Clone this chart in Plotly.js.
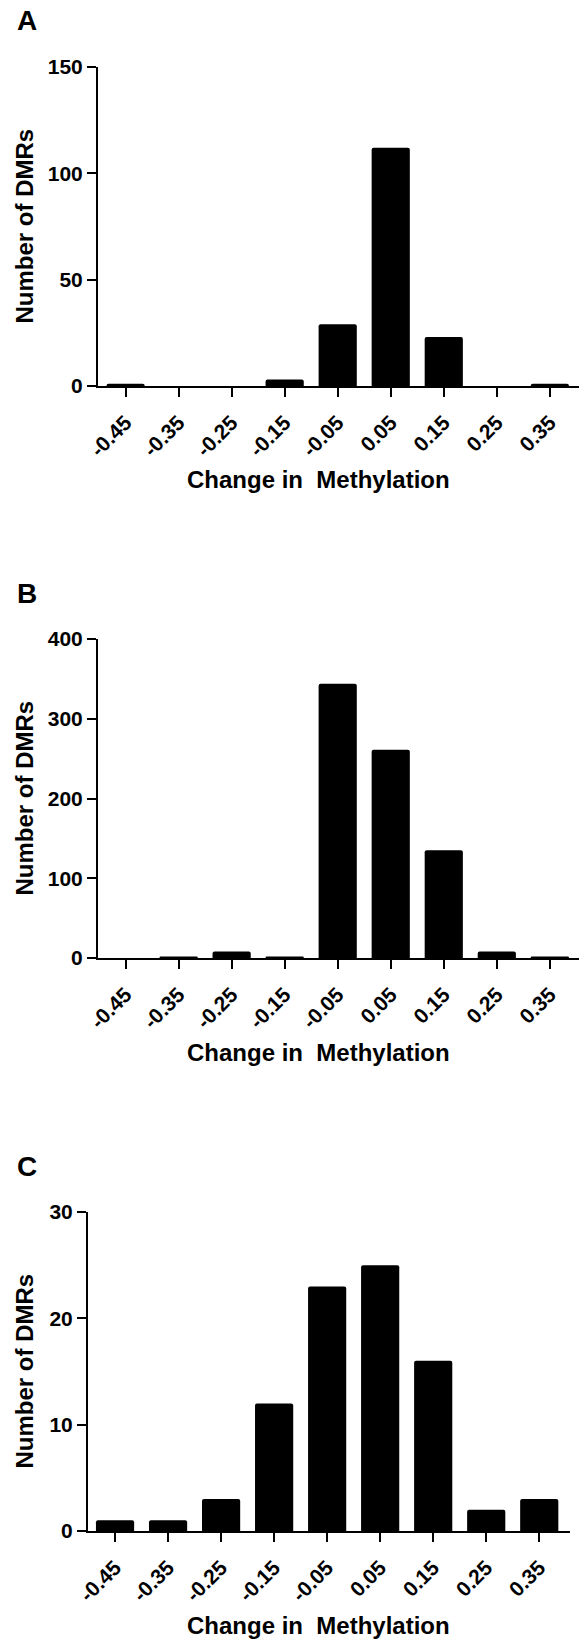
<!DOCTYPE html>
<html>
<head>
<meta charset="utf-8">
<script src="https://cdn.plot.ly/plotly-3.0.1.min.js"></script>
<style>html,body{margin:0;padding:0;background:#fff;}#chart{width:581px;height:1648px;}</style>
</head>
<body>
<div id="chart"></div>
<script>
var categories = ["-0.45","-0.35","-0.25","-0.15","-0.05","0.05","0.15","0.25","0.35"];
var countsA = [1, 0, 0, 3, 29, 112, 23, 0, 1];
var countsB = [0, 2, 8, 2, 344, 261, 135, 8, 2];
var countsC = [1, 1, 3, 12, 23, 25, 16, 2, 3];
var panelLabels = ["A", "B", "C"];
var yTitle = "Number of DMRs";
var xTitle = "Change in\u00a0 Methylation";

var W = 581, H = 1648;
function px(x){ return x / W; }
function py(y){ return 1 - y / H; }

var FONT = "Liberation Sans, Arial, Helvetica, sans-serif";
var panels = [
  {vals: countsA, top: 67, bottom: 386, left: 98, right: 579, range: [-0.52, 8.55], ymax: 150, dtick: 50},
  {vals: countsB, top: 639, bottom: 958, left: 98, right: 579, range: [-0.52, 8.55], ymax: 400, dtick: 100},
  {vals: countsC, top: 1212, bottom: 1531, left: 88, right: 570, range: [-0.51, 8.58], ymax: 30, dtick: 10}
];

var data = [];
var layout = {
  width: W, height: H,
  margin: {l: 0, r: 0, t: 0, b: 0},
  paper_bgcolor: "#fff", plot_bgcolor: "#fff",
  showlegend: false,
  bargap: 0.28,
  annotations: []
};

panels.forEach(function(p, i){
  var n = i === 0 ? "" : String(i + 1);
  data.push({
    type: "bar",
    x: categories,
    y: p.vals,
    xaxis: "x" + n,
    yaxis: "y" + n,
    marker: {color: "#000", line: {width: 0}, cornerradius: 2},
    hoverinfo: "skip"
  });
  layout["xaxis" + n] = {
    domain: [px(p.left), px(p.right)],
    anchor: "y" + n,
    type: "category",
    range: p.range,
    showline: true, linecolor: "#000", linewidth: 2,
    ticks: "outside", ticklen: 9, tickwidth: 2, tickcolor: "#000",
    tickangle: -45, ticklabelstandoff: 5,
    tickfont: {family: FONT, size: 21, color: "#000", weight: "bold"},
    showgrid: false, zeroline: false, automargin: false, fixedrange: true
  };
  layout["yaxis" + n] = {
    domain: [py(p.bottom), py(p.top)],
    anchor: "x" + n,
    range: [0, p.ymax],
    tick0: 0, dtick: p.dtick,
    showline: true, linecolor: "#000", linewidth: 2,
    ticks: "outside", ticklen: 9, tickwidth: 2, tickcolor: "#000",
    tickfont: {family: FONT, size: 21, color: "#000", weight: "bold"},
    showgrid: false, zeroline: false, automargin: false, fixedrange: true
  };
  layout.annotations.push({
    xref: "paper", yref: "paper", x: px(15), y: py(p.top - 46),
    xanchor: "left", yanchor: "middle", showarrow: false,
    text: panelLabels[i],
    font: {family: FONT, size: 28, color: "#000", weight: "bold"}
  });
  layout.annotations.push({
    xref: "paper", yref: "paper", x: px(24), y: py((p.top + p.bottom) / 2),
    xanchor: "center", yanchor: "middle", showarrow: false, textangle: -90,
    text: yTitle,
    font: {family: FONT, size: 24, color: "#000", weight: "bold"}
  });
  layout.annotations.push({
    xref: "paper", yref: "paper", x: px(318), y: py(p.bottom + 94),
    xanchor: "center", yanchor: "middle", showarrow: false,
    text: xTitle,
    font: {family: FONT, size: 24, color: "#000", weight: "bold"}
  });
});

Plotly.newPlot("chart", data, layout, {staticPlot: true, displayModeBar: false});
</script>
</body>
</html>
